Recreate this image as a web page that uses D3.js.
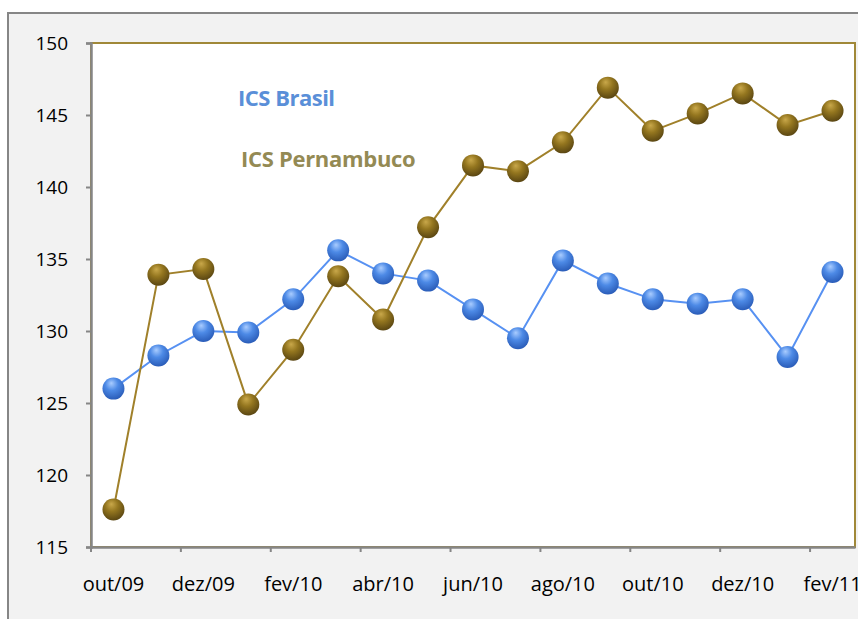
<!DOCTYPE html>
<html lang="pt">
<head>
<meta charset="UTF-8" />
<title>ICS Brasil x ICS Pernambuco</title>
<script src="https://d3js.org/d3.v7.min.js"></script>
<style>
	body { margin: 0; background: #ffffff; }
	svg { display: block; font-family: "Open Sans", sans-serif; }
</style>
</head>
<body>
<script>
var months = ["out/09", "nov/09", "dez/09", "jan/10", "fev/10", "mar/10", "abr/10", "mai/10", "jun/10",
	"jul/10", "ago/10", "set/10", "out/10", "nov/10", "dez/10", "jan/11", "fev/11"];
var icsBrasil = [126.0, 128.3, 130.0, 129.9, 132.2, 135.6, 134.0, 133.5, 131.5,
	129.5, 134.9, 133.3, 132.2, 131.9, 132.2, 128.2, 134.1];
var icsPernambuco = [117.6, 133.9, 134.3, 124.9, 128.7, 133.8, 130.8, 137.2, 141.5,
	141.1, 143.1, 146.9, 143.9, 145.1, 146.5, 144.3, 145.3];
var yTicks = [115, 120, 125, 130, 135, 140, 145, 150];

var w = 858, h = 619;
var plotLeft = 91, plotRight = 855, plotTop = 43, plotBottom = 547;

var svg = d3.select("body").append("svg").attr("width", w).attr("height", h);

// chart area frame
svg.append("rect").attr("x", 8).attr("y", 13).attr("width", w).attr("height", h)
	.attr("fill", "#f2f2f2").attr("stroke", "#868686").attr("stroke-width", 2);

var xScale = d3.scaleBand().domain(months).range([plotLeft, plotRight]);
var yScale = d3.scaleLinear().domain([115, 150]).range([plotBottom, plotTop]);

// plot area
svg.append("rect").attr("x", plotLeft).attr("y", plotTop)
	.attr("width", plotRight - plotLeft).attr("height", plotBottom - plotTop)
	.attr("fill", "#ffffff").attr("stroke", "#a08838").attr("stroke-width", 2);

// gradients for the markers
var defs = svg.append("defs");
function ball(id, hi, mid, dark) {
	var g = defs.append("radialGradient").attr("id", id)
		.attr("cx", "45%").attr("cy", "35%").attr("r", "65%").attr("fx", "40%").attr("fy", "25%");
	g.append("stop").attr("offset", "0%").attr("stop-color", hi);
	g.append("stop").attr("offset", "45%").attr("stop-color", mid);
	g.append("stop").attr("offset", "100%").attr("stop-color", dark);
}
ball("gBlue", "#a9ccff", "#4d8ae6", "#2a5cb8");
ball("gGold", "#c9a84a", "#94761f", "#5a4612");

// y axis
var yAxis = d3.axisLeft(yScale).tickValues(yTicks).tickSize(5).tickPadding(18).tickFormat(d3.format("d"));
var ya = svg.append("g").attr("transform", "translate(" + plotLeft + ",0)").call(yAxis);
ya.select(".domain").attr("stroke", "#868686").attr("stroke-width", 2.5);
ya.selectAll(".tick line").attr("stroke", "#868686").attr("stroke-width", 2);
ya.selectAll("text").attr("font-size", "19px").attr("fill", "#000").attr("font-family", "Open Sans");

// x axis, labels on every other month
var xAxis = d3.axisBottom(xScale)
	.tickValues(months.filter(function (d, i) { return i % 2 == 0; }))
	.tickSize(0).tickPadding(30);
var xa = svg.append("g").attr("transform", "translate(0," + plotBottom + ")").call(xAxis);
xa.select(".domain").attr("stroke", "#868686").attr("stroke-width", 2.5);
xa.selectAll("text").attr("font-size", "20px").attr("fill", "#000").attr("font-family", "Open Sans");
xa.selectAll(".tickmark")
	.data(months.filter(function (d, i) { return i % 2 == 0; }))
	.enter().append("line")
	.attr("x1", function (d) { return xScale(d); })
	.attr("x2", function (d) { return xScale(d); })
	.attr("y1", 0).attr("y2", 5)
	.attr("stroke", "#868686").attr("stroke-width", 2);

var cx = function (d, i) { return xScale(months[i]) + xScale.bandwidth() / 2; };
var line = d3.line().x(function (d, i) { return cx(d, i); }).y(function (d) { return yScale(d); });

function series(data, color, grad) {
	svg.append("path").datum(data).attr("d", line)
		.attr("fill", "none").attr("stroke", color).attr("stroke-width", 2);
	svg.append("g").selectAll("circle").data(data).enter().append("circle")
		.attr("cx", cx)
		.attr("cy", function (d) { return yScale(d); })
		.attr("r", 11)
		.attr("fill", "url(#" + grad + ")");
}
series(icsBrasil, "#5791f2", "gBlue");
series(icsPernambuco, "#a0802a", "gGold");

// legend labels
svg.append("text").attr("x", 238).attr("y", 106).text("ICS Brasil")
	.attr("font-size", "22px").attr("font-weight", "bold").attr("fill", "#5a8fd8")
	.attr("letter-spacing", "-0.5");
svg.append("text").attr("x", 241).attr("y", 167).text("ICS Pernambuco")
	.attr("font-size", "22px").attr("font-weight", "bold").attr("fill", "#948a54")
	.attr("letter-spacing", "-0.3");
</script>
</body>
</html>
